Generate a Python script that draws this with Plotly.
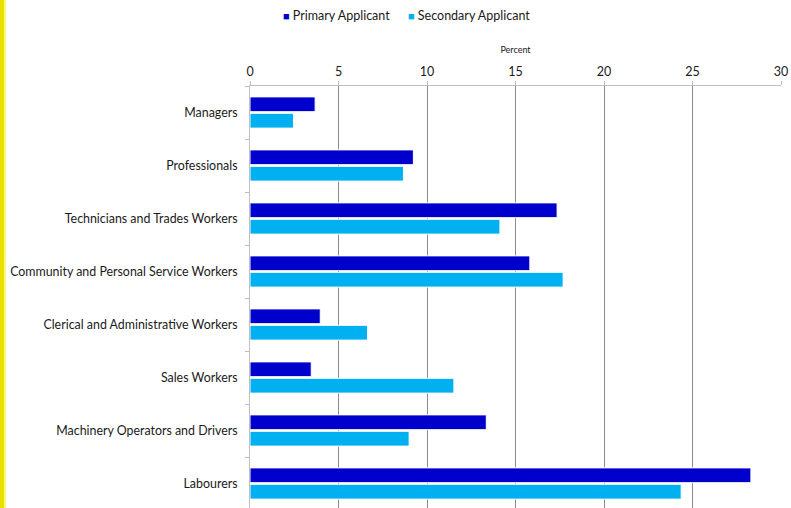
import plotly.graph_objects as go

categories = [
    "Managers",
    "Professionals",
    "Technicians and Trades Workers",
    "Community and Personal Service Workers",
    "Clerical and Administrative Workers",
    "Sales Workers",
    "Machinery Operators and Drivers",
    "Labourers",
]
primary = [3.68, 9.23, 17.35, 15.81, 3.97, 3.46, 13.35, 28.3]
secondary = [2.46, 8.67, 14.12, 17.69, 6.64, 11.52, 8.99, 24.36]
x_ticks = [0, 5, 10, 15, 20, 25, 30]
series_names = ["Primary Applicant", "Secondary Applicant"]
series_colors = ["#0000CC", "#00B0F0"]

FONT = "Lato"
W, H = 791, 508
ML, MR, MT, MB = 250, 10, 86, 0
PW = W - ML - MR
PH = H - MT - MB

fig = go.Figure()
for name, vals, col in zip(series_names, [primary, secondary], series_colors):
    fig.add_trace(go.Bar(
        name=name, y=categories, x=vals, orientation="h",
        marker=dict(color=col, line=dict(color="white", width=1)),
    ))

legend_x = [(281 - ML) / PW, (406 - ML) / PW]
annotations = []
for name, col, lx in zip(series_names, series_colors, legend_x):
    annotations.append(dict(
        xref="paper", yref="paper", x=lx, y=1 + (MT - 16) / PH,
        xanchor="left", yanchor="middle", showarrow=False,
        text=f"<span style='color:{col};font-size:11px'>■</span> {name}",
        font=dict(family=FONT, size=12.5, color="#1a1a1a"),
    ))

fig.update_layout(
    width=W, height=H,
    margin=dict(l=ML, r=MR, t=MT, b=MB, autoexpand=False),
    paper_bgcolor="white", plot_bgcolor="white",
    barmode="group", bargap=0.38, bargroupgap=0.1,
    font=dict(family=FONT, size=12, color="#1a1a1a"),
    showlegend=False,
    annotations=annotations,
    xaxis=dict(
        side="top", range=[0, 30], tickvals=x_ticks,
        showgrid=True, gridcolor="#8c8c8c", gridwidth=1,
        showline=True, linecolor="#bfbfbf", linewidth=1,
        ticks="outside", ticklen=4, tickcolor="#bfbfbf",
        tickfont=dict(size=12.5, color="#1a1a1a"),
        title=dict(text="Percent", font=dict(size=9, color="#1a1a1a"), standoff=8),
        zeroline=False, fixedrange=True, automargin=False,
    ),
    yaxis=dict(
        type="category", categoryorder="array", categoryarray=categories,
        range=[-0.5 + PH / 53.0, -0.5], autorange=False,
        showline=True, linecolor="#bfbfbf", linewidth=1,
        ticks="outside", ticklen=4, tickcolor="#bfbfbf", tickson="boundaries",
        tickfont=dict(size=12.4, color="#1a1a1a"),
        ticklabelstandoff=9,
        showgrid=False, zeroline=False, fixedrange=True, automargin=False,
    ),
    shapes=[
        dict(type="rect", xref="paper", yref="paper",
             x0=(0 - ML) / PW, x1=(4 - ML) / PW, y0=-0.01, y1=1 + MT / PH + 0.01,
             fillcolor="#E8E000", line=dict(width=0), layer="above"),
        dict(type="rect", xref="paper", yref="paper",
             x0=(4 - ML) / PW, x1=(6 - ML) / PW, y0=-0.01, y1=1 + MT / PH + 0.01,
             fillcolor="#FFF870", line=dict(width=0), layer="above"),
    ],
)

fig.write_html(
    "out.html",
    config={"displayModeBar": False},
    post_script="document.body.style.margin='0';document.body.style.overflow='hidden';",
)
